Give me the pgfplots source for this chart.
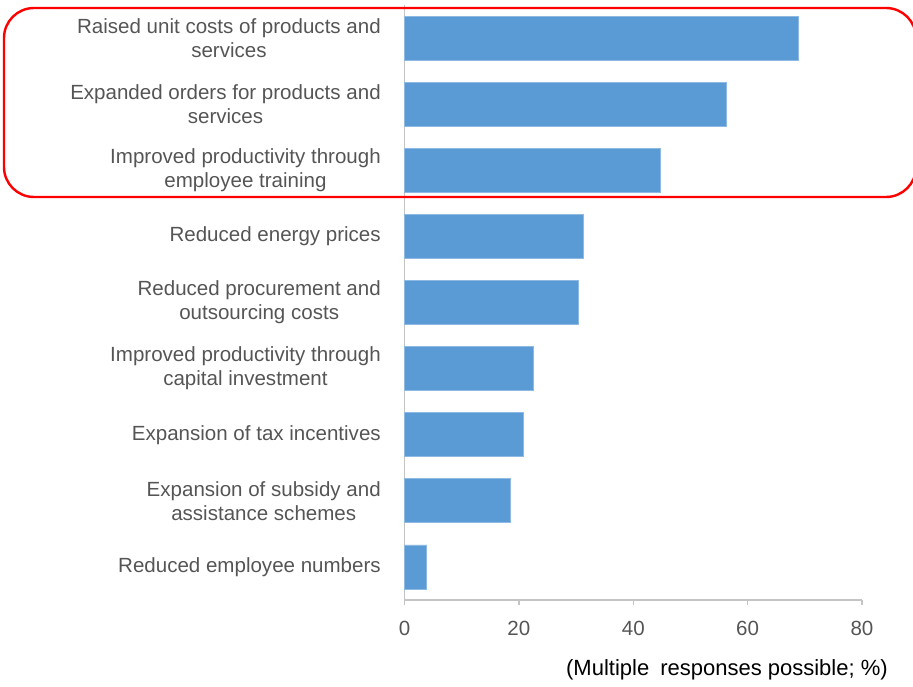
\documentclass[border=0pt]{standalone}
\usepackage{pgfplots}
\pgfplotsset{compat=1.18}
\usepackage{fontspec}
\setmainfont{Liberation Sans}
\definecolor{barblue}{HTML}{5B9BD5}
\definecolor{baredge}{HTML}{8DB9E3}
\definecolor{txtgray}{HTML}{555555}
\definecolor{axgray}{HTML}{C4C4C4}
\begin{document}
\begin{tikzpicture}
\useasboundingbox (0,0) rectangle (684.75pt,514.5pt);
\begin{axis}[
  at={(303.4pt,64.5pt)}, anchor=south west,
  scale only axis, width=343.1pt, height=446.25pt,
  xbar, bar width=33pt,
  xmin=0, xmax=80, ymin=-0.5, ymax=8.5, y dir=reverse,
  axis lines*=left,
  axis line style={axgray, line width=1.1pt},
  xtick={0,20,40,60,80},
  xtick align=outside,
  major tick length=3.75pt,
  x tick style={axgray, line width=1.1pt},
  ytick={0,...,8},
  y tick style={draw=none},
  yticklabels={{Raised unit costs of products and\\services},
               {Expanded orders for products and\\services},
               {Improved productivity through\\employee training},
               {Reduced energy prices},
               {Reduced procurement and\\outsourcing costs},
               {Improved productivity through\\capital investment},
               {Expansion of tax incentives},
               {Expansion of subsidy and\\assistance schemes},
               {Reduced employee numbers}},
  y tick label style={align=center, text=txtgray, inner sep=0pt, xshift=-13.9pt,
     font=\fontsize{15.4}{18}\selectfont},
  x tick label style={text=txtgray, inner sep=0pt, yshift=-12pt,
     font=\fontsize{15.4}{18}\selectfont},
  /pgf/number format/assume math mode=true,
  clip=false,
]
\addplot[fill=barblue, draw=baredge, line width=0.6pt] coordinates {
  (68.9,0) (56.3,1) (44.7,2) (31.2,3) (30.4,4) (22.5,5) (20.7,6) (18.6,7) (3.9,8)
};
\end{axis}
\draw[red, line width=1.8pt, rounded corners=22.5pt] (3pt,366.75pt) rectangle (687pt,508.5pt);
\node[anchor=east, inner sep=0pt, font=\fontsize{16.5}{18}\selectfont] at (666pt,12pt) {(Multiple\hspace{0.5em}responses possible; \%)};
\end{tikzpicture}
\end{document}
